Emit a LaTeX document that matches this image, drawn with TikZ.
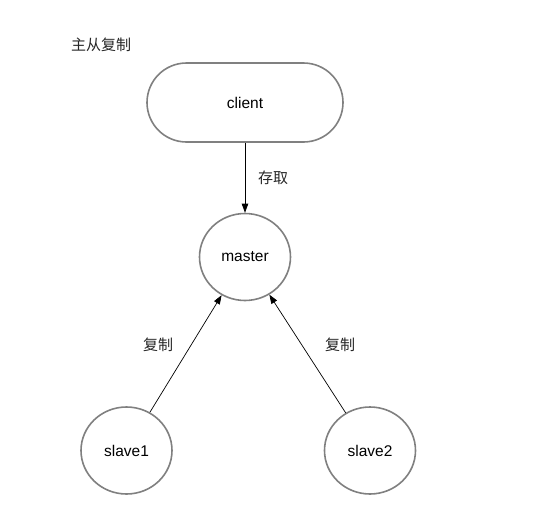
\documentclass[tikz,border=0pt]{standalone}
\usepackage{fontspec}
\setmainfont{Liberation Sans}
\newfontfamily\cjk{Noto Sans CJK SC}
\usetikzlibrary{shapes.geometric,shapes.misc,arrows.meta}
\begin{document}
\begin{tikzpicture}[x=1pt,y=-1pt,
  shapeline/.style={draw=black!50,line width=1.6pt,fill=white,font=\fontsize{15.5}{18}\selectfont},
  roundbox/.style={shapeline,rounded rectangle,minimum width=196pt,minimum height=79pt,inner sep=0pt},
  nodecirc/.style={shapeline,ellipse,minimum width=91pt,minimum height=87pt,inner sep=0pt},
  conn/.style={draw=black,line width=0.7pt,-{Triangle[length=9pt,width=6.5pt]}},
  lbl/.style={font=\cjk\fontsize{15}{18}\selectfont,text=black!85,inner sep=0pt}]
\useasboundingbox (0,0) rectangle (542,517);
\fill[white] (0,0) rectangle (542,517);
\node[lbl] (title) at (101,45) {主从复制};
\node[roundbox] (client) at (245,102.5) {client};
\node[nodecirc] (master) at (245,257) {master};
\node[nodecirc] (slave1) at (126.5,450.5) {slave1};
\node[nodecirc] (slave2) at (370,450.5) {slave2};
\draw[conn] (client.south) -- (master.north);
\draw[conn] (slave1) -- (master);
\draw[conn] (slave2) -- (master);
\node[lbl] (l1) at (273,178) {存取};
\node[lbl] (l2) at (158,345) {复制};
\node[lbl] (l3) at (340,345) {复制};
\end{tikzpicture}
\end{document}
